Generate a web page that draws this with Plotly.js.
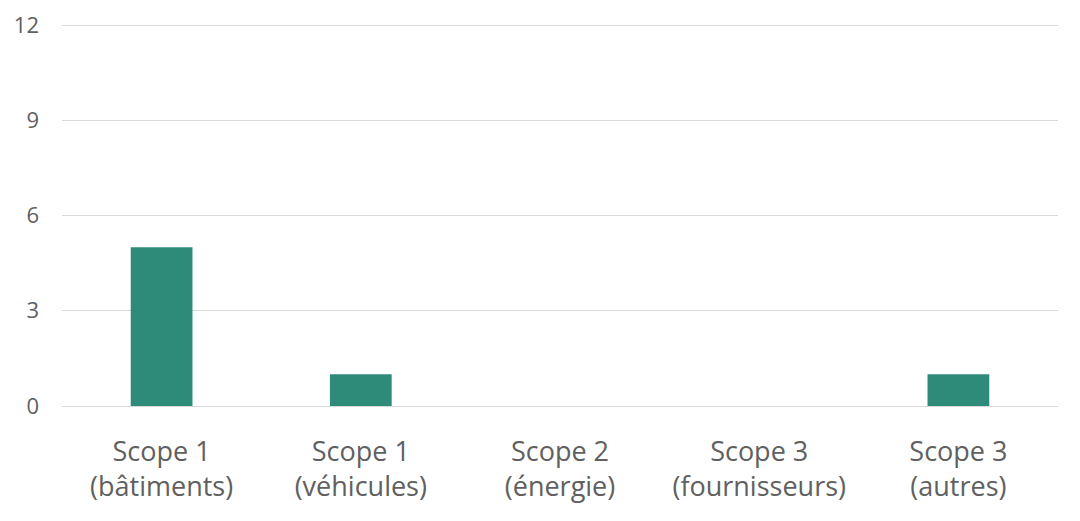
<!DOCTYPE html>
<html>
<head>
<meta charset="utf-8">
<script src="https://cdn.plot.ly/plotly-3.0.1.min.js"></script>
<style>
html,body{margin:0;padding:0;background:#fff;}
#chart{width:1080px;height:521px;}
</style>
</head>
<body>
<div id="chart"></div>
<script>
const categories = ["Scope 1<br>(bâtiments)", "Scope 1<br>(véhicules)", "Scope 2<br>(énergie)", "Scope 3<br>(fournisseurs)", "Scope 3<br>(autres)"];
const values = [5, 1, 0, 0, 1];
const yTicks = [0, 3, 6, 9, 12];

const trace = {
  type: 'bar',
  x: categories,
  y: values,
  marker: {color: '#2E8B7A'},
  hoverinfo: 'skip'
};

const layout = {
  width: 1080,
  height: 521,
  margin: {l: 62, r: 22, t: 22, b: 115},
  paper_bgcolor: '#ffffff',
  plot_bgcolor: '#ffffff',
  bargap: 0.69,
  showlegend: false,
  font: {family: 'Open Sans, sans-serif', color: '#595959'},
  xaxis: {
    type: 'category',
    tickfont: {size: 27, color: '#606060'},
    ticks: '',
    ticklabelstandoff: 27,
    showgrid: false,
    showline: false,
    zeroline: false
  },
  yaxis: {
    range: [0, 12.1],
    tickvals: yTicks,
    ticktext: yTicks.map(String),
    tickfont: {size: 22, color: '#606060'},
    ticklabelstandoff: 22,
    gridcolor: '#D9D9D9',
    gridwidth: 1,
    zeroline: true,
    zerolinecolor: '#D9D9D9',
    zerolinewidth: 1,
    showline: false
  }
};

Plotly.newPlot('chart', [trace], layout, {displayModeBar: false, staticPlot: true});
</script>
</body>
</html>
